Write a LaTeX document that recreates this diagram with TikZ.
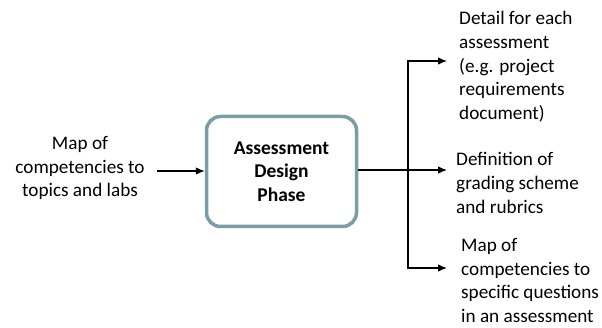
\documentclass[tikz,border=0pt]{standalone}
\usepackage{fontspec}
\setmainfont{Carlito}
\usetikzlibrary{arrows.meta}
\definecolor{boxedge}{RGB}{122,158,163}
\tikzset{
  label text/.style={inner sep=0pt, align=left, font=\fontsize{19.2}{23.8}\selectfont},
  flow/.style={line width=1.1pt, -{Latex[length=9pt,width=7.5pt]}},
  phasebox/.style={draw=boxedge, line width=3.5pt, rounded corners=14pt,
    minimum width=150pt, minimum height=110pt, inner sep=0pt,
    align=center, font=\fontsize{19.5}{23.5}\selectfont\bfseries}
}
\begin{document}
\begin{tikzpicture}[x=1pt, y=-1pt]
  \useasboundingbox (0,0) rectangle (602,328);

  % central process box
  \node[phasebox] (phase) at (281.5,171.5) {Assessment\\Design\\Phase};

  % input
  \node[label text, align=center, anchor=north] (input) at (80,136) {Map of\\competencies to\\topics and labs};
  \coordinate (inEnd) at (157,171);
  \draw[flow] (inEnd) -- (phase.west |- inEnd);

  % outputs
  \node[label text, anchor=north west] (outA) at (459,11) {Detail for each\\assessment\\(e.g. project\\requirements\\document)};
  \node[label text, anchor=north west] (outB) at (456,152) {Definition of\\grading scheme\\and rubrics};
  \node[label text, anchor=north west] (outC) at (461,238) {Map of\\competencies to\\specific questions\\in an assessment};

  \coordinate (split) at (408,170);
  \coordinate (tipA) at (447,61);
  \coordinate (tipB) at (447,170);
  \coordinate (tipC) at (447,268);

  \draw[line width=1.1pt] (phase.east |- split) -- (split);
  \draw[flow] (split) -- (tipB);
  \draw[flow] (split) |- (tipA);
  \draw[flow] (split) |- (tipC);
\end{tikzpicture}
\end{document}
